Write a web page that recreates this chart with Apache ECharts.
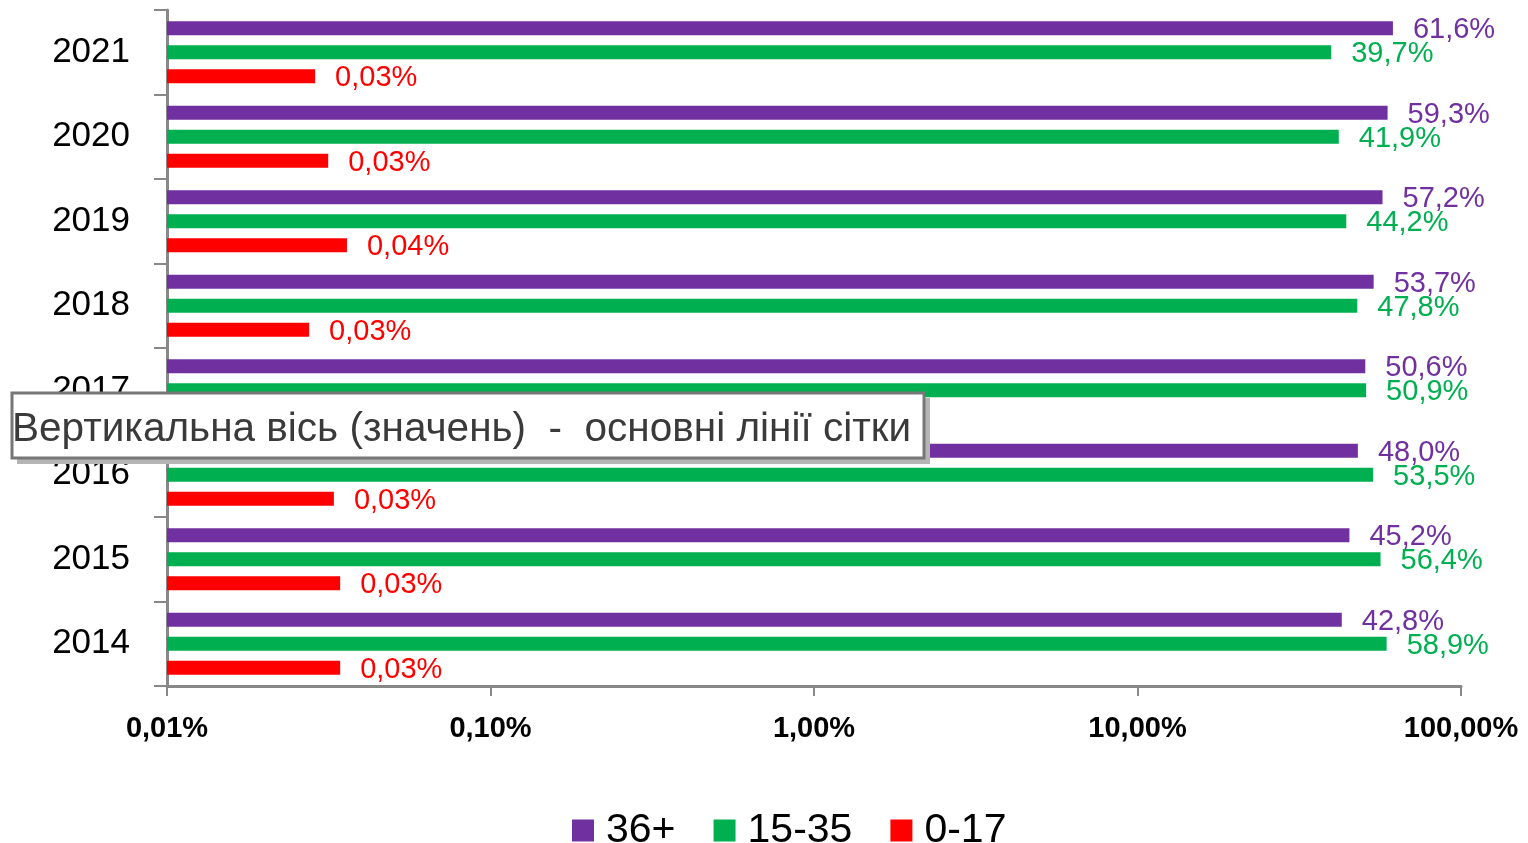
<!DOCTYPE html>
<html>
<head>
<meta charset="utf-8">
<script src="https://cdn.jsdelivr.net/npm/echarts@6/dist/echarts.min.js"></script>
<style>
  html, body { margin: 0; padding: 0; background: #fff; }
  #chart { width: 1528px; height: 843px; }
</style>
</head>
<body>
<div id="chart"></div>
<script>
// years, top to bottom
const years = ['2021', '2020', '2019', '2018', '2017', '2016', '2015', '2014'];
const seriesNames = ['36+', '15-35', '0-17'];
// values in percent
const age36plus = [61.6, 59.3, 57.2, 53.7, 50.6, 48.0, 45.2, 42.8];
const age15to35 = [39.7, 41.9, 44.2, 47.8, 50.9, 53.5, 56.4, 58.9];
const age0to17 = [0.0287, 0.0315, 0.036, 0.0275, 0.03, 0.0328, 0.0343, 0.0343];
const colors = ['#7030A0', '#00B050', '#FF0000'];
const tipText = 'Вертикальна вісь (значень)  -  основні лінії сітки';

const FONT = '"Liberation Sans", Arial, sans-serif';

function pct(v, digits) {
  return v.toFixed(digits).replace('.', ',') + '%';
}

const chart = echarts.init(document.getElementById('chart'));

function barSeries(name, data, color, digits) {
  return {
    name: name,
    type: 'bar',
    data: data,
    barWidth: 14,
    barGap: '72%',
    itemStyle: { color: color },
    label: {
      show: true,
      position: 'right',
      distance: 20,
      offset: [0, 2],
      color: color,
      fontFamily: FONT,
      fontSize: 29,
      formatter: p => pct(p.value, digits)
    }
  };
}

chart.setOption({
  animation: false,
  grid: { left: 167, right: 67, top: 10, bottom: 157, containLabel: false },
  legend: {
    left: 572,
    top: 810,
    padding: 0,
    itemWidth: 22,
    itemHeight: 22,
    itemGap: 38,
    icon: 'rect',
    data: seriesNames,
    textStyle: { fontFamily: FONT, fontSize: 41, color: '#000', padding: [0, 0, 0, 7] }
  },
  xAxis: {
    type: 'log',
    logBase: 10,
    min: 0.01,
    max: 100,
    startValue: 0.01,
    splitLine: { show: false },
    axisLine: { show: true, lineStyle: { color: '#888', width: 3 } },
    axisTick: { show: true, length: 10, lineStyle: { color: '#888', width: 2 } },
    axisLabel: {
      margin: 28,
      fontFamily: FONT,
      fontSize: 29,
      fontWeight: 'bold',
      color: '#000',
      formatter: v => pct(v, 2)
    }
  },
  yAxis: {
    type: 'category',
    inverse: true,
    data: years,
    axisLine: { show: true, lineStyle: { color: '#888', width: 3 } },
    axisTick: { show: true, length: 13, lineStyle: { color: '#888', width: 2 } },
    axisLabel: {
      margin: 37,
      padding: [6, 0, 0, 0],
      fontFamily: FONT,
      fontSize: 35,
      color: '#000'
    }
  },
  series: [
    barSeries(seriesNames[0], age36plus, colors[0], 1),
    barSeries(seriesNames[1], age15to35, colors[1], 1),
    barSeries(seriesNames[2], age0to17, colors[2], 2)
  ],
  graphic: [
    {
      type: 'rect',
      shape: { x: 17, y: 398, width: 913, height: 66 },
      style: { fill: '#b5b5b5' },
      z: 100
    },
    {
      type: 'rect',
      shape: { x: 12, y: 393, width: 912, height: 65 },
      style: { fill: '#fff', stroke: '#777', lineWidth: 3 },
      z: 101
    },
    {
      type: 'text',
      x: 12,
      y: 430,
      style: {
        text: tipText,
        fontFamily: FONT,
        fontSize: 40.5,
        fill: '#3a3a3a',
        verticalAlign: 'middle'
      },
      z: 102
    }
  ]
});
</script>
</body>
</html>
